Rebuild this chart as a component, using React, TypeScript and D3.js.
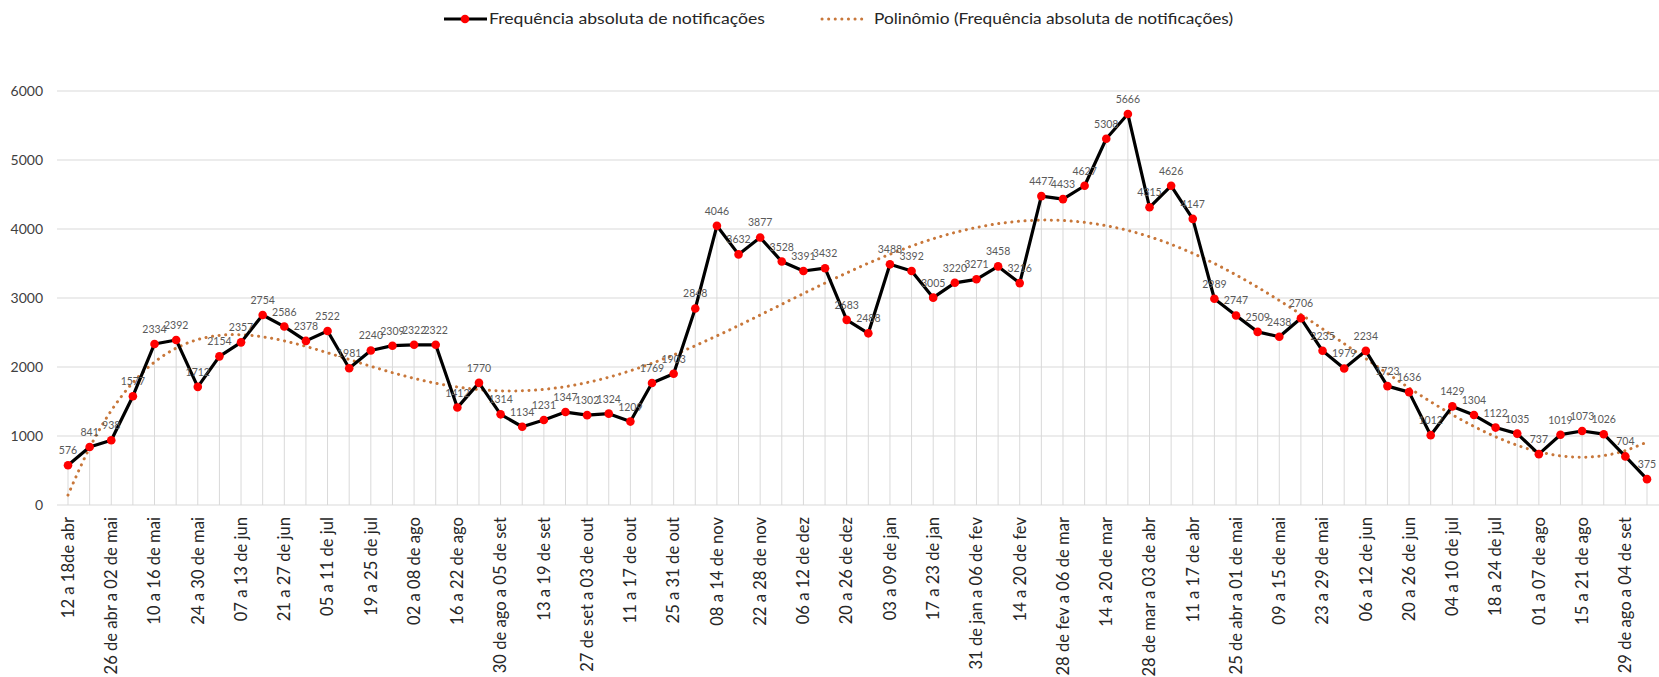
import React, { useRef, useEffect } from 'react'
import * as d3 from 'd3'

// notificações por semana epidemiológica (abr/2020 a set/2021)
const values = [
  576, 841, 938, 1577, 2334, 2392, 1712, 2154, 2357, 2754,
  2586, 2378, 2522, 1981, 2240, 2309, 2322, 2322, 1412, 1770,
  1314, 1134, 1231, 1347, 1302, 1324, 1209, 1769, 1903, 2848,
  4046, 3632, 3877, 3528, 3391, 3432, 2683, 2488, 3488, 3392,
  3005, 3220, 3271, 3458, 3216, 4477, 4433, 4627, 5308, 5666,
  4315, 4626, 4147, 2989, 2747, 2509, 2438, 2706, 2235, 1979,
  2234, 1723, 1636, 1012, 1429, 1304, 1122, 1035, 737, 1019,
  1073, 1026, 704, 375,
]

// rótulos visíveis (uma semana sim, outra não)
const tickLabels = [
  '12 a 18de abr', '26 de abr a 02 de mai', '10 a 16 de mai', '24 a 30 de mai',
  '07 a 13 de jun', '21 a 27 de jun', '05 a 11 de jul', '19 a 25 de jul',
  '02 a 08 de ago', '16 a 22 de ago', '30 de ago a 05 de set', '13 a 19 de set',
  '27 de set a 03 de out', '11 a 17 de out', '25 a 31 de out', '08 a 14 de nov',
  '22 a 28 de nov', '06 a 12 de dez', '20 a 26 de dez', '03 a 09 de jan',
  '17 a 23 de jan', '31 de jan a 06 de fev', '14 a 20 de fev', '28 de fev a 06 de mar',
  '14 a 20 de mar', '28 de mar a 03 de abr', '11 a 17 de abr', '25 de abr a 01 de mai',
  '09 a 15 de mai', '23 a 29 de mai', '06 a 12 de jun', '20 a 26 de jun',
  '04 a 10 de jul', '18 a 24 de jul', '01 a 07 de ago', '15 a 21 de ago',
  '29 de ago a 04 de set',
]

const yTicks = [0, 1000, 2000, 3000, 4000, 5000, 6000]

const seriesName = 'Frequência absoluta de notificações'
const trendName = 'Polinômio (Frequência absoluta de notificações)'

// linha de tendência polinomial (ordem 6), mínimos quadrados como no Excel
function polyFit(ys: number[], order: number) {
  const n = ys.length
  const mid = (n - 1) / 2
  const ts = ys.map((_, i) => (i - mid) / mid)
  const m = order + 1
  const A: number[][] = []
  for (let r = 0; r < m; r++) {
    A.push([])
    for (let c = 0; c <= m; c++) {
      let s = 0
      for (let i = 0; i < n; i++) {
        s += c < m ? Math.pow(ts[i], r + c) : ys[i] * Math.pow(ts[i], r)
      }
      A[r].push(s)
    }
  }
  for (let p = 0; p < m; p++) {
    let best = p
    for (let r = p + 1; r < m; r++) if (Math.abs(A[r][p]) > Math.abs(A[best][p])) best = r
    ;[A[p], A[best]] = [A[best], A[p]]
    for (let r = 0; r < m; r++) {
      if (r === p) continue
      const f = A[r][p] / A[p][p]
      for (let c = p; c <= m; c++) A[r][c] -= f * A[p][c]
    }
  }
  const coef = A.map((row, i) => row[m] / row[i])
  return (i: number) => {
    const t = (i - mid) / mid
    return coef.reduce((acc, k, j) => acc + k * Math.pow(t, j), 0)
  }
}

const App = () => {
  const svgRef = useRef<SVGSVGElement>(null)

  useEffect(() => {
    const w = 1659
    const h = 677
    const svg = d3.select(svgRef.current)
      .attr('width', w)
      .attr('height', h)
    svg.selectAll('*').remove()

    const font = "Lato, 'Open Sans', sans-serif"

    const xScale = d3.scaleLinear().domain([0, values.length - 1]).range([68, 1647])
    const yScale = d3.scaleLinear().domain([0, 6000]).range([505, 91])

    // grade horizontal
    svg.append('g')
      .selectAll('line')
      .data(yTicks)
      .join('line')
      .attr('x1', 57)
      .attr('x2', w)
      .attr('y1', d => yScale(d))
      .attr('y2', d => yScale(d))
      .attr('stroke', '#d9d9d9')
      .attr('stroke-width', 1.2)

    // linhas de projeção
    svg.append('g')
      .selectAll('line')
      .data(values)
      .join('line')
      .attr('x1', (d, i) => xScale(i))
      .attr('x2', (d, i) => xScale(i))
      .attr('y1', yScale(0))
      .attr('y2', d => yScale(d))
      .attr('stroke', '#d9d9d9')
      .attr('stroke-width', 1)

    // eixo y
    svg.append('g')
      .selectAll('text')
      .data(yTicks)
      .join('text')
      .attr('x', 43)
      .attr('y', d => yScale(d))
      .attr('dy', '0.35em')
      .attr('text-anchor', 'end')
      .attr('font-family', font)
      .attr('font-size', 14)
      .attr('fill', '#404040')
      .text(d => d)

    // eixo x
    svg.append('g')
      .selectAll('text')
      .data(tickLabels)
      .join('text')
      .attr('transform', (d, i) => `translate(${xScale(i * 2)},517) rotate(-90)`)
      .attr('dy', '0.35em')
      .attr('text-anchor', 'end')
      .attr('font-family', font)
      .attr('font-size', 16.6)
      .attr('fill', '#262626')
      .text(d => d)

    // tendência
    const trend = polyFit(values, 6)
    const trendLine = d3.line<number>()
      .x((d, i) => xScale(i))
      .y((d, i) => yScale(trend(i)))
      .curve(d3.curveCatmullRom)
    svg.append('path')
      .attr('d', trendLine(values))
      .attr('fill', 'none')
      .attr('stroke', '#c8773a')
      .attr('stroke-width', 3)
      .attr('stroke-linecap', 'round')
      .attr('stroke-dasharray', '0.1 6.5')

    // série
    const line = d3.line<number>()
      .x((d, i) => xScale(i))
      .y(d => yScale(d))
    svg.append('path')
      .attr('d', line(values))
      .attr('fill', 'none')
      .attr('stroke', '#000')
      .attr('stroke-width', 3.2)
      .attr('stroke-linejoin', 'round')

    svg.append('g')
      .selectAll('circle')
      .data(values)
      .join('circle')
      .attr('cx', (d, i) => xScale(i))
      .attr('cy', d => yScale(d))
      .attr('r', 4.3)
      .attr('fill', '#ff0000')

    // rótulos de dados
    svg.append('g')
      .selectAll('text')
      .data(values)
      .join('text')
      .attr('x', (d, i) => xScale(i))
      .attr('y', d => yScale(d) - 11)
      .attr('text-anchor', 'middle')
      .attr('font-family', font)
      .attr('font-size', 10.5)
      .attr('fill', '#595959')
      .text(d => d)

    // legenda
    const leg = svg.append('g').attr('font-family', font).attr('font-size', 15).attr('fill', '#262626')
    leg.append('line')
      .attr('x1', 444).attr('x2', 487).attr('y1', 19).attr('y2', 19)
      .attr('stroke', '#000').attr('stroke-width', 3.2)
    leg.append('circle').attr('cx', 465).attr('cy', 19).attr('r', 4.3).attr('fill', '#ff0000')
    leg.append('text')
      .attr('x', 489).attr('y', 19).attr('dy', '0.35em')
      .attr('textLength', 276).attr('lengthAdjust', 'spacingAndGlyphs')
      .text(seriesName)
    leg.append('line')
      .attr('x1', 822).attr('x2', 867).attr('y1', 19).attr('y2', 19)
      .attr('stroke', '#c8773a').attr('stroke-width', 3)
      .attr('stroke-linecap', 'round').attr('stroke-dasharray', '0.1 6.5')
    leg.append('text')
      .attr('x', 874).attr('y', 19).attr('dy', '0.35em')
      .attr('textLength', 359).attr('lengthAdjust', 'spacingAndGlyphs')
      .text(trendName)
  }, [])

  return (
    <svg ref={svgRef} style={{ position: 'absolute', left: 0, top: 0, background: '#fff' }}></svg>
  )
}

export default App
